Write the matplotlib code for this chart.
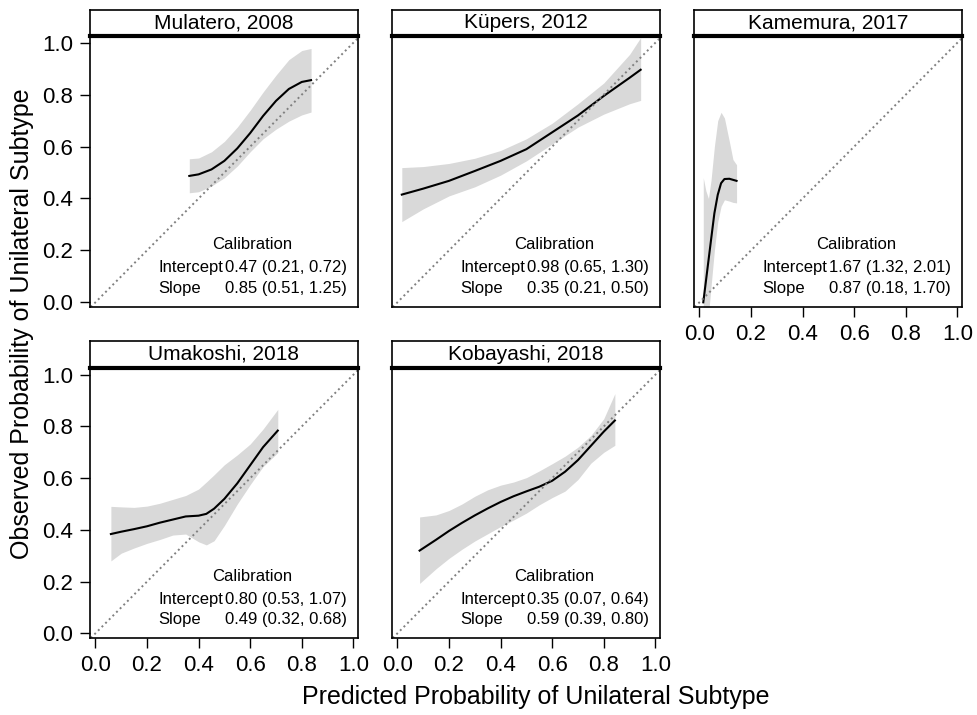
import numpy as np
import matplotlib
matplotlib.use("Agg")
import matplotlib.pyplot as plt

plt.rcParams['font.family'] = ['Liberation Sans', 'DejaVu Sans']

# study names and calibration stats
studies = ["Mulatero, 2008", "Küpers, 2012", "Kamemura, 2017", "Umakoshi, 2018", "Kobayashi, 2018"]
intercepts = ["0.47 (0.21, 0.72)", "0.98 (0.65, 1.30)", "1.67 (1.32, 2.01)",
              "0.80 (0.53, 1.07)", "0.35 (0.07, 0.64)"]
slopes = ["0.85 (0.51, 1.25)", "0.35 (0.21, 0.50)", "0.87 (0.18, 1.70)",
          "0.49 (0.32, 0.68)", "0.59 (0.39, 0.80)"]

# smoothed calibration curves
mul_x = [0.364, 0.40, 0.45, 0.50, 0.55, 0.60, 0.65, 0.70, 0.75, 0.80, 0.836]
mul_y = [0.487, 0.493, 0.512, 0.545, 0.593, 0.652, 0.718, 0.776, 0.822, 0.849, 0.856]
mul_lo = [0.422, 0.426, 0.448, 0.480, 0.525, 0.580, 0.630, 0.667, 0.698, 0.722, 0.733]
mul_hi = [0.553, 0.556, 0.580, 0.620, 0.675, 0.740, 0.810, 0.875, 0.935, 0.970, 0.978]

kup_x = [0.017, 0.10, 0.20, 0.30, 0.40, 0.50, 0.60, 0.70, 0.80, 0.90, 0.943]
kup_y = [0.415, 0.438, 0.468, 0.506, 0.545, 0.590, 0.655, 0.720, 0.795, 0.865, 0.896]
kup_lo = [0.311, 0.360, 0.410, 0.445, 0.490, 0.545, 0.610, 0.675, 0.725, 0.765, 0.778]
kup_hi = [0.519, 0.523, 0.535, 0.555, 0.585, 0.630, 0.690, 0.765, 0.845, 0.955, 1.020]

kam_x = [0.015, 0.025, 0.035, 0.045, 0.058, 0.071, 0.084, 0.097, 0.116, 0.130, 0.144]
kam_y = [0.000, 0.080, 0.160, 0.240, 0.343, 0.414, 0.459, 0.475, 0.476, 0.472, 0.468]
kam_lo = [-0.20, -0.15, -0.05, 0.06, 0.20, 0.31, 0.37, 0.395, 0.390, 0.385, 0.383]
kam_hi = [0.480, 0.430, 0.400, 0.470, 0.600, 0.700, 0.732, 0.710, 0.620, 0.550, 0.530]

uma_x = [0.06, 0.10, 0.15, 0.20, 0.25, 0.30, 0.35, 0.40, 0.43, 0.46, 0.50, 0.55, 0.60, 0.65, 0.707]
uma_y = [0.384, 0.393, 0.403, 0.414, 0.428, 0.440, 0.452, 0.455, 0.462, 0.482, 0.520, 0.580, 0.650, 0.720, 0.784]
uma_lo = [0.280, 0.310, 0.330, 0.348, 0.363, 0.380, 0.384, 0.354, 0.342, 0.358, 0.417, 0.500, 0.575, 0.645, 0.699]
uma_hi = [0.491, 0.489, 0.487, 0.492, 0.503, 0.518, 0.533, 0.558, 0.585, 0.613, 0.652, 0.690, 0.732, 0.790, 0.866]

kob_x = [0.086, 0.15, 0.20, 0.25, 0.30, 0.35, 0.40, 0.45, 0.50, 0.55, 0.60, 0.65, 0.70, 0.75, 0.80, 0.843]
kob_y = [0.320, 0.362, 0.396, 0.427, 0.456, 0.483, 0.508, 0.530, 0.549, 0.567, 0.590, 0.625, 0.670, 0.725, 0.780, 0.823]
kob_lo = [0.193, 0.250, 0.290, 0.325, 0.357, 0.385, 0.413, 0.438, 0.465, 0.497, 0.525, 0.550, 0.595, 0.658, 0.700, 0.727]
kob_hi = [0.450, 0.458, 0.475, 0.500, 0.530, 0.555, 0.573, 0.585, 0.602, 0.628, 0.656, 0.685, 0.720, 0.765, 0.830, 0.927]

curves = [(mul_x, mul_y, mul_lo, mul_hi), (kup_x, kup_y, kup_lo, kup_hi),
          (kam_x, kam_y, kam_lo, kam_hi), (uma_x, uma_y, uma_lo, uma_hi),
          (kob_x, kob_y, kob_lo, kob_hi)]
ticks = [0.0, 0.2, 0.4, 0.6, 0.8, 1.0]

W, H = 977, 715
fig = plt.figure(figsize=(W / 100, H / 100), dpi=100)


def px_axes(left, top, right, bottom):
    return fig.add_axes([left / W, 1 - bottom / H, (right - left) / W, (bottom - top) / H])


lefts = [90, 392, 694]
rows = [(10, 36, 307), (341, 368, 638)]
spots = [(0, 0), (0, 1), (0, 2), (1, 0), (1, 1)]

for i, (r, c) in enumerate(spots):
    htop, ptop, pbot = rows[r]
    left, right = lefts[c], lefts[c] + 268

    # strip with the study name
    hx = px_axes(left, htop, right, ptop)
    hx.set_xticks([])
    hx.set_yticks([])
    for s in hx.spines.values():
        s.set_linewidth(1.2)
    hx.text(0.5, 0.5, studies[i], ha='center', va='center', fontsize=15,
            transform=hx.transAxes)

    ax = px_axes(left, ptop, right, pbot)
    x, y, lo, hi = curves[i]
    ax.fill_between(x, lo, hi, color='#d9d9d9', lw=0)
    ax.plot(x, y, color='black', lw=1.5)
    ax.axline((0, 0), (1, 1), color='#808080', ls=':', lw=1.4)
    ax.set_xlim(-0.021, 1.018)
    ax.set_ylim(-0.018, 1.026)
    for s in ax.spines.values():
        s.set_linewidth(1.2)
    ax.spines['top'].set_linewidth(3)

    ax.tick_params(direction='out', length=7, width=1, labelsize=16, pad=5)
    if c == 0:
        ax.set_yticks(ticks)
        ax.set_yticklabels([f"{t:.1f}" for t in ticks])
    else:
        ax.set_yticks([])
    if r == 1 or c == 2:
        ax.set_xticks(ticks)
        ax.set_xticklabels([f"{t:.1f}" for t in ticks])
    else:
        ax.set_xticks([])

    ax.text(0.604, 0.229, "Calibration", ha='center', va='center', fontsize=12,
            transform=ax.transAxes)
    ax.text(0.254, 0.144, "Intercept", ha='left', va='center', fontsize=12,
            transform=ax.transAxes)
    ax.text(0.504, 0.144, intercepts[i], ha='left', va='center', fontsize=12,
            transform=ax.transAxes)
    ax.text(0.254, 0.070, "Slope", ha='left', va='center', fontsize=12,
            transform=ax.transAxes)
    ax.text(0.504, 0.070, slopes[i], ha='left', va='center', fontsize=12,
            transform=ax.transAxes)

fig.text(536 / W, 1 - 697 / H, "Predicted Probability of Unilateral Subtype",
         ha='center', va='center', fontsize=18)
fig.text(22 / W, 1 - 324 / H, "Observed Probability of Unilateral Subtype",
         ha='center', va='center', rotation=90, fontsize=18)

fig.savefig("out.png", dpi=100)
